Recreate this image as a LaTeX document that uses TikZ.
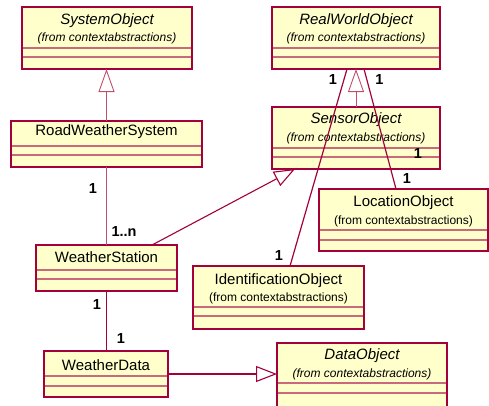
\documentclass[tikz,border=0pt]{standalone}
\usepackage{fontspec}
\setmainfont{Liberation Sans}
\usetikzlibrary{arrows.meta}

\definecolor{classfill}{HTML}{FFFFCC}
\definecolor{classedge}{HTML}{A3003C}
\definecolor{divline}{HTML}{C86A7C}
\definecolor{genline}{HTML}{C0506E}

\tikzset{
  classbox/.style={draw=classedge, fill=classfill, line width=1.3pt, inner sep=0pt, outer sep=0pt, rectangle},
  divider/.style={draw=divline, line width=1.2pt},
  ctitle/.style={font=\fontsize{15}{15}\selectfont, inner sep=0pt},
  ctitleit/.style={font=\fontsize{15}{15}\selectfont\itshape, inner sep=0pt},
  csub/.style={font=\fontsize{12}{12}\selectfont, inner sep=0pt},
  csubit/.style={font=\fontsize{12}{12}\selectfont\itshape, inner sep=0pt},
  mult/.style={font=\fontsize{14.5}{14.5}\selectfont\bfseries, inner sep=0pt},
  genlink/.style={draw=genline, line width=0.9pt, -{Triangle[open, length=23pt, width=16pt, line width=0.9pt]}},
  genlinkdark/.style={draw=classedge, line width=1.1pt, -{Triangle[open, length=21pt, width=16pt, line width=1.1pt]}},
  assoc/.style={draw=classedge, line width=1.2pt},
  assocthin/.style={draw=genline, line width=0.9pt},
  assocthick/.style={draw=classedge, line width=1.8pt},
}

% class box: name, left, top, right, bottom, first divider, second divider
\newcommand{\umlclass}[7]{%
  \node[classbox, minimum width={(#4-#2)*1pt}, minimum height={(#5-#3)*1pt}] (#1) at ({(#2+#4)/2},{(#3+#5)/2}) {};
  \draw[divider] (#2+0.6,#6) -- (#4-0.6,#6);
  \draw[divider] (#2+0.6,#7) -- (#4-0.6,#7);
}

\begin{document}
\begin{tikzpicture}[x=1pt,y=-1pt]
\clip (0,0) rectangle (489,405);
\fill[white] (0,0) rectangle (489,405);

% classes
\umlclass{sysobj}{22}{7}{192}{69}{48}{57}
\node[ctitleit] (sysobj-t) at (107,21) {SystemObject};
\node[csubit] (sysobj-s) at (107,38) {(from contextabstractions)};

\umlclass{rwobj}{272}{7}{440}{69}{48}{57}
\node[ctitleit] (rwobj-t) at (356,21) {RealWorldObject};
\node[csubit] (rwobj-s) at (356,38) {(from contextabstractions)};

\umlclass{rws}{11}{121}{202}{167}{146}{155}
\node[ctitle] (rws-t) at (106.5,132) {RoadWeatherSystem};

\umlclass{sensor}{272}{107}{440}{169}{148}{157}
\node[ctitleit] (sensor-t) at (356,120) {SensorObject};
\node[csubit] (sensor-s) at (356,138) {(from contextabstractions)};

\umlclass{loc}{319}{189}{488}{251}{230}{240}
\node[ctitle] (loc-t) at (403.5,203) {LocationObject};
\node[csub] (loc-s) at (403.5,221) {(from contextabstractions)};

\umlclass{ws}{36}{245}{177}{291}{270}{279}
\node[ctitle] (ws-t) at (106.5,257) {WeatherStation};

\umlclass{ident}{193}{266}{364}{329}{307}{316}
\node[ctitle] (ident-t) at (278.5,281) {IdentificationObject};
\node[csub] (ident-s) at (278.5,298) {(from contextabstractions)};

\umlclass{wd}{44}{351}{168}{397}{376}{386}
\node[ctitle] (wd-t) at (106,365) {WeatherData};

\umlclass{dataobj}{277}{343}{447}{420}{383}{393}
\node[ctitleit] (dataobj-t) at (362,356) {DataObject};
\node[csubit] (dataobj-s) at (362,374) {(from contextabstractions)};

% generalizations
\draw[genlink] (rws.north) -- (rws.north |- sysobj.south);
\draw[genlink] (sensor.north) -- (sensor.north |- rwobj.south);
\draw[genlinkdark] ([xshift=45.5pt]ws.north) -- ([xshift=-61pt]sensor.south);
\draw[genlinkdark] (wd.east) -- (wd.east -| dataobj.west);

% associations
\draw[assoc] ([xshift=-9pt]rwobj.south) -- ([xshift=11.5pt]ident.north);
\draw[assoc] ([xshift=8pt]rwobj.south) -- ([xshift=-7.5pt]loc.north);
\draw[assocthin] (rws.south) -- (rws.south |- ws.north);
\draw[assocthick] (ws.south) -- (ws.south |- wd.north);

% multiplicities
\node[mult] (m-rws) at (93,189) {1};
\node[mult] (m-ws1) at (124,232) {1..n};
\node[mult] (m-ws2) at (97,305) {1};
\node[mult] (m-wd) at (121,339) {1};
\node[mult] (m-rwl) at (333,80) {1};
\node[mult] (m-rwr) at (379.5,80) {1};
\node[mult] (m-sen) at (418,154) {1};
\node[mult] (m-loc) at (407,179) {1};
\node[mult] (m-id) at (279,256) {1};
\end{tikzpicture}
\end{document}
